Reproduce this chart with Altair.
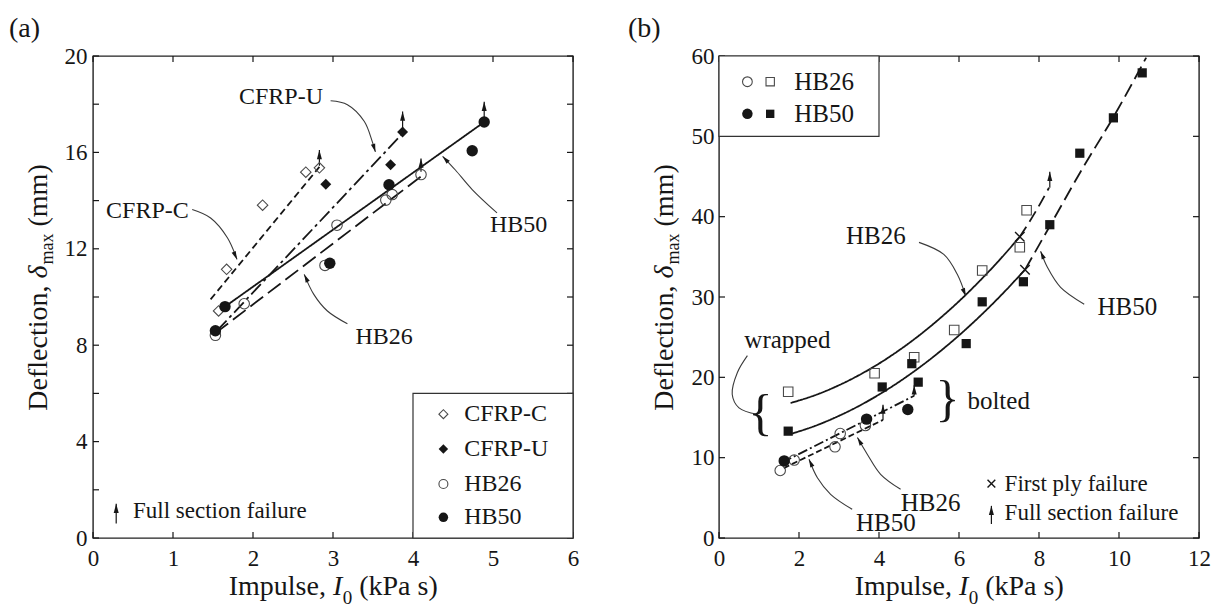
import math
import altair as alt
import pandas as pd

FONT = "Liberation Serif"
INK = "#161616"
OPEN = "#4a4a4a"
NOTE = "#3a3a3a"
W, H = 480, 482
TICK = 6

# ---------------- panel (a): sandwich panels, linear fits ----------------
A_XDOM, A_YDOM = [0, 6], [0, 20]
a_x_ticks = [0, 1, 2, 3, 4, 5, 6]
a_y_ticks = [0, 2, 4, 6, 8, 10, 12, 14, 16, 18, 20]
a_y_labels = [0, 4, 8, 12, 16, 20]

cfrpc_x = [1.57, 1.67, 2.12, 2.66, 2.83]
cfrpc_y = [9.42, 11.15, 13.81, 15.18, 15.36]
cfrpu_x = [2.91, 3.72, 3.87]
cfrpu_y = [14.68, 15.49, 16.85]
hb26_x = [1.53, 1.89, 2.90, 3.05, 3.66, 3.74, 4.10]
hb26_y = [8.41, 9.72, 11.31, 12.98, 14.02, 14.25, 15.08]
hb50_x = [1.53, 1.65, 2.96, 3.70, 4.74, 4.89]
hb50_y = [8.60, 9.60, 11.40, 14.66, 16.07, 17.26]

# straight-line fits: end points
a_fit_x0 = [1.47, 1.55, 1.65, 1.53]
a_fit_y0 = [9.90, 8.60, 9.60, 8.50]
a_fit_x1 = [2.83, 3.86, 4.89, 4.10]
a_fit_y1 = [15.40, 16.75, 17.26, 15.00]
a_fit_dash = [[7, 4], [14, 4, 3, 4], [1, 0], [16, 6]]

# full section failure arrows
a_fail_x = [2.83, 3.87, 4.10, 4.89]
a_fail_y0 = [15.45, 16.95, 15.20, 17.35]
a_fail_y1 = [16.10, 17.70, 15.75, 18.10]

# callout labels and leader curves
a_note_text = ["CFRP-U", "CFRP-C", "HB26", "HB50"]
a_note_x = [2.35, 0.68, 3.64, 5.32]
a_note_y = [18.28, 13.56, 8.34, 13.00]
a_lead_x = [[2.97, 3.18, 3.39, 3.49, 3.53],
            [1.24, 1.47, 1.68, 1.80],
            [3.18, 2.93, 2.76, 2.64],
            [5.05, 4.74, 4.53, 4.37]]
a_lead_y = [[18.14, 17.98, 17.29, 16.46, 16.02],
            [13.63, 13.28, 12.46, 11.56],
            [8.89, 9.42, 10.11, 10.94],
            [13.49, 14.46, 15.27, 15.84]]

# legend box contents
a_leg_box = [4.0, 0.0, 6.0, 6.0]
a_leg_names = ["CFRP-C", "CFRP-U", "HB26", "HB50"]
a_leg_sym_x, a_leg_txt_x = 4.38, 4.64
a_leg_y = [5.14, 3.69, 2.24, 0.86]
a_fs_arrow = [0.29, 0.60, 1.42]
a_fs_text = [0.50, 1.14, "Full section failure"]

# ---------------- panel (b): wrapped vs bolted ----------------
B_XDOM, B_YDOM = [0, 12], [0, 60]
b_x_ticks = [0, 2, 4, 6, 8, 10, 12]
b_y_ticks = [0, 10, 20, 30, 40, 50, 60]

w26_x = [1.73, 3.89, 4.88, 5.88, 6.58, 7.52, 7.69]
w26_y = [18.2, 20.5, 22.5, 25.9, 33.3, 36.2, 40.8]
w50_x = [1.73, 4.08, 4.82, 4.98, 6.18, 6.58, 7.61, 8.27, 9.02, 9.86, 10.58]
w50_y = [13.3, 18.8, 21.7, 19.4, 24.2, 29.4, 31.9, 39.0, 47.9, 52.3, 57.9]
b26_x = [1.53, 1.88, 2.90, 3.03, 3.66]
b26_y = [8.4, 9.7, 11.35, 13.0, 14.0]
b50_x = [1.63, 3.69, 4.72]
b50_y = [9.6, 14.8, 16.0]
ply_x = [7.52, 7.65]
ply_y = [37.5, 33.4]

# wrapped trend curves: solid up to first ply failure, dashed beyond
w26_curve_x = [1.79, 2.5, 3.0, 3.5, 4.0, 4.5, 5.0, 5.5, 6.0, 6.5, 7.0, 7.52]
w26_curve_y = [16.8, 17.96, 19.02, 20.27, 21.71, 23.36, 25.2, 27.24, 29.47, 31.91, 34.54, 37.5]
w26_dash_x = [7.52, 7.9, 8.25]
w26_dash_y = [37.5, 40.5, 43.6]
w50_curve_x = [1.83, 2.5, 3.0, 3.5, 4.0, 4.5, 5.0, 5.5, 6.0, 6.5, 7.0, 7.65]
w50_curve_y = [13.0, 14.14, 15.21, 16.44, 17.85, 19.43, 21.19, 23.12, 25.22, 27.5, 29.95, 33.4]
w50_dash_x = [7.65, 8.29, 9.04, 9.86, 10.68]
w50_dash_y = [33.4, 39.0, 45.6, 52.4, 59.8]

# bolted straight lines
b_fit_x0 = [1.58, 1.62]
b_fit_y0 = [9.4, 8.7]
b_fit_x1 = [4.88, 4.10]
b_fit_y1 = [17.7, 14.7]
b_fit_dash = [[10, 3, 2, 3], [6, 3]]
b_fail_x = [4.10, 4.88, 8.27]
b_fail_y0 = [14.7, 17.7, 43.6]
b_fail_y1 = [16.6, 19.0, 45.6]

b_note_text = ["HB26", "HB50", "HB26", "HB50"]
b_note_x = [3.92, 10.21, 5.29, 4.17]
b_note_y = [37.6, 28.7, 4.4, 1.9]
b_lead_x = [[5.0, 5.62, 5.96, 6.17],
            [9.13, 8.54, 8.21, 8.04],
            [4.54, 4.04, 3.71, 3.46],
            [3.33, 2.79, 2.46, 2.25]]
b_lead_y = [[36.8, 35.3, 32.8, 30.1],
            [29.1, 31.2, 33.7, 35.7],
            [6.06, 7.93, 10.4, 12.5],
            [3.57, 5.44, 7.5, 9.8]]
wrap_lead_x = [0.71, 0.46, 0.33, 0.50, 0.96]
wrap_lead_y = [22.7, 20.6, 17.9, 16.2, 15.4]
wrap_text = [1.71, 24.7, "wrapped"]
bolt_text = [6.21, 17.1, "bolted"]
brace_l = [1.04, 15.4, "{"]
brace_r = [5.71, 17.2, "}"]

b_leg_box = [0.0, 50.0, 4.0, 60.0]
b_leg_sym_x = [0.71, 1.28]
b_leg_txt_x = 1.88
b_leg_y = [56.8, 52.8]
b_leg_names = ["HB26", "HB50"]
b_key_sym_x, b_key_txt_x = 6.81, 7.14
b_key_y = [6.77, 3.15]
b_key_arrow = [1.74, 4.0]
b_key_names = ["First ply failure", "Full section failure"]

# ---- shapes ----
HEAD = "M0,0L0.6,2.2L-0.6,2.2Z"   # arrow head, tip at anchor
XMARK = "M-1,-1L1,1M-1,1L1,-1"

# ---- one axis definition per scale, repeated in every layer so they merge ----
_ax = dict(ticks=False, domain=False, grid=False, labelFont=FONT, labelFontSize=23,
           labelColor=INK, labelFlush=False, labelOverlap=False, title=None)
AXES = {
    ("x", tuple(A_XDOM)): alt.Axis(values=a_x_ticks, labelPadding=9, **_ax),
    ("y", tuple(A_YDOM)): alt.Axis(values=a_y_labels, labelPadding=6, **_ax),
    ("x", tuple(B_XDOM)): alt.Axis(values=b_x_ticks, labelPadding=9, **_ax),
    ("y", tuple(B_YDOM)): alt.Axis(values=b_y_ticks, labelPadding=5, **_ax),
}


def X(f, dom):
    return alt.X(f"{f}:Q", scale=alt.Scale(domain=dom, nice=False, zero=False),
                 axis=AXES[("x", tuple(dom))])


def Y(f, dom):
    return alt.Y(f"{f}:Q", scale=alt.Scale(domain=dom, nice=False, zero=False),
                 axis=AXES[("y", tuple(dom))])


def points(xv, yv, xd, yd, shape, size, filled, color, sw=1.1):
    df = pd.DataFrame({"x": xv, "y": yv})
    return alt.Chart(df).mark_point(shape=shape, size=size, filled=filled, color=color,
                                    strokeWidth=sw, opacity=1).encode(x=X("x", xd), y=Y("y", yd))


def poly(xv, yv, xd, yd, dash, width=1.8, color=INK, interp="linear"):
    df = pd.DataFrame({"x": xv, "y": yv, "i": list(range(len(xv)))})
    return alt.Chart(df).mark_line(strokeDash=dash, strokeWidth=width, color=color,
                                   interpolate=interp).encode(x=X("x", xd), y=Y("y", yd),
                                                              order="i:Q")


def heading(xs_, ys_, xd, yd):
    # direction of the last segment, in screen pixels
    sx = W / (xd[1] - xd[0])
    sy = H / (yd[1] - yd[0])
    dx = (xs_[-1] - xs_[-2]) * sx
    dy = -(ys_[-1] - ys_[-2]) * sy
    return math.degrees(math.atan2(dx, -dy)) % 360


def leaders(lx, ly, xd, yd, heads=True):
    rows, tips = [], []
    for g, (xs_, ys_) in enumerate(zip(lx, ly)):
        for i, (a, b) in enumerate(zip(xs_, ys_)):
            rows.append({"g": g, "i": i, "x": a, "y": b})
        tips.append({"x": xs_[-1], "y": ys_[-1], "ang": heading(xs_, ys_, xd, yd)})
    curve = alt.Chart(pd.DataFrame(rows)).mark_line(
        color=NOTE, strokeWidth=1.1, interpolate="catmull-rom").encode(
        x=X("x", xd), y=Y("y", yd), detail="g:N", order="i:Q")
    if not heads:
        return curve
    head = alt.Chart(pd.DataFrame(tips)).mark_point(
        shape=HEAD, size=55, filled=True, color=INK, opacity=1).encode(
        x=X("x", xd), y=Y("y", yd), angle=alt.Angle("ang:Q", scale=None))
    return curve + head


def fail_arrows(fx, y0, y1, xd, yd):
    df = pd.DataFrame({"x": fx, "y0": y0, "y1": y1})
    shaft = alt.Chart(df).mark_rule(color=INK, strokeWidth=1.2).encode(
        x=X("x", xd), y=Y("y0", yd), y2="y1:Q")
    head = alt.Chart(df).mark_point(shape=HEAD, size=70, filled=True, color=INK,
                                    opacity=1).encode(x=X("x", xd), y=Y("y1", yd))
    return shaft + head


def labels(tx, ty, tt, xd, yd, size=24, align="center"):
    df = pd.DataFrame({"x": tx, "y": ty, "t": tt})
    return alt.Chart(df).mark_text(font=FONT, fontSize=size, color=INK, align=align,
                                   baseline="middle").encode(
        x=X("x", xd), y=Y("y", yd), text="t:N")


def box(b, xd, yd):
    df = pd.DataFrame({"x": [b[0]], "y": [b[1]], "x2": [b[2]], "y2": [b[3]]})
    return alt.Chart(df).mark_rect(fill="white", stroke="#333333", strokeWidth=1.2).encode(
        x=X("x", xd), y=Y("y", yd), x2="x2:Q", y2="y2:Q")


def frame_ticks(xt, yt, xd, yd):
    # inward ticks on all four sides of the frame
    dx = pd.DataFrame({"v": xt})
    dy = pd.DataFrame({"v": yt})
    rx = alt.Chart(dx).mark_rule(color=INK, strokeWidth=1.2)
    ry = alt.Chart(dy).mark_rule(color=INK, strokeWidth=1.2)
    bottom = rx.encode(x=X("v", xd), y=alt.value(H), y2=alt.value(H - TICK))
    top = rx.encode(x=X("v", xd), y=alt.value(0), y2=alt.value(TICK))
    left = ry.encode(y=Y("v", yd), x=alt.value(0), x2=alt.value(TICK))
    right = ry.encode(y=Y("v", yd), x=alt.value(W), x2=alt.value(W - TICK))
    return bottom + top + left + right


# ---- composed axis titles (italic symbols with subscripts) ----
def text_piece(t, px, py, size, italic=False, angle=0):
    kw = dict(font=FONT, fontSize=size, color=INK, align="left", baseline="alphabetic")
    if italic:
        kw["fontStyle"] = "italic"
    if angle:
        kw["angle"] = angle
    return alt.Chart(pd.DataFrame({"t": [t]})).mark_text(**kw).encode(
        x=alt.value(px), y=alt.value(py), text="t:N")


def axis_titles(tag, tag_x):
    # x title: "Impulse, I0 (kPa s)"
    xb, xs0 = 539, 135.7
    parts = (text_piece("Impulse,", xs0, xb, 28)
             + text_piece("I", xs0 + 104.2, xb, 28, italic=True)
             + text_piece("0", xs0 + 114.0, xb + 9, 19)
             + text_piece("(kPa s)", xs0 + 130.5, xb, 28))
    # y title: "Deflection, δmax (mm)", read bottom to top
    yb, ys0 = -46, 354.7
    parts = (parts
             + text_piece("Deflection,", yb, ys0, 28, angle=270)
             + text_piece("δ", yb, ys0 - 132.2, 28, italic=True, angle=270)
             + text_piece("max", yb + 6, ys0 - 146.2, 18, angle=270)
             + text_piece("(mm)", yb, ys0 - 184.2, 28, angle=270))
    return parts + text_piece(tag, tag_x, -19, 28)


# ================= panel (a) =================
xa, ya = A_XDOM, A_YDOM
a_layers = [frame_ticks(a_x_ticks, a_y_ticks, xa, ya)]
for x0, y0, x1, y1, d in zip(a_fit_x0, a_fit_y0, a_fit_x1, a_fit_y1, a_fit_dash):
    a_layers.append(poly([x0, x1], [y0, y1], xa, ya, d))
a_layers += [
    fail_arrows(a_fail_x, a_fail_y0, a_fail_y1, xa, ya),
    points(cfrpc_x, cfrpc_y, xa, ya, "diamond", 110, False, OPEN),
    points(hb26_x, hb26_y, xa, ya, "circle", 110, False, OPEN),
    points(cfrpu_x, cfrpu_y, xa, ya, "diamond", 120, True, INK),
    points(hb50_x, hb50_y, xa, ya, "circle", 130, True, INK),
    leaders(a_lead_x, a_lead_y, xa, ya),
    labels(a_note_x, a_note_y, a_note_text, xa, ya),
    box(a_leg_box, xa, ya),
    points([a_leg_sym_x], [a_leg_y[0]], xa, ya, "diamond", 80, False, OPEN),
    points([a_leg_sym_x], [a_leg_y[1]], xa, ya, "diamond", 90, True, INK),
    points([a_leg_sym_x], [a_leg_y[2]], xa, ya, "circle", 80, False, OPEN),
    points([a_leg_sym_x], [a_leg_y[3]], xa, ya, "circle", 90, True, INK),
    labels([a_leg_txt_x] * 4, a_leg_y, a_leg_names, xa, ya, size=24, align="left"),
    fail_arrows([a_fs_arrow[0]], [a_fs_arrow[1]], [a_fs_arrow[2]], xa, ya),
    labels([a_fs_text[0]], [a_fs_text[1]], [a_fs_text[2]], xa, ya, size=23, align="left"),
    axis_titles("(a)", -84),
]
panel_a = alt.layer(*a_layers).properties(width=W, height=H)

# ================= panel (b) =================
xb_, yb_ = B_XDOM, B_YDOM
b_layers = [
    frame_ticks(b_x_ticks, b_y_ticks, xb_, yb_),
    poly(w26_curve_x, w26_curve_y, xb_, yb_, [1, 0], interp="monotone"),
    poly(w26_dash_x, w26_dash_y, xb_, yb_, [12, 6], interp="monotone"),
    poly(w50_curve_x, w50_curve_y, xb_, yb_, [1, 0], interp="monotone"),
    poly(w50_dash_x, w50_dash_y, xb_, yb_, [14, 6], interp="monotone"),
]
for x0, y0, x1, y1, d in zip(b_fit_x0, b_fit_y0, b_fit_x1, b_fit_y1, b_fit_dash):
    b_layers.append(poly([x0, x1], [y0, y1], xb_, yb_, d))
b_layers += [
    fail_arrows(b_fail_x, b_fail_y0, b_fail_y1, xb_, yb_),
    points(w26_x, w26_y, xb_, yb_, "square", 90, False, OPEN),
    points(w50_x, w50_y, xb_, yb_, "square", 85, True, INK),
    points(b26_x, b26_y, xb_, yb_, "circle", 110, False, OPEN),
    points(b50_x, b50_y, xb_, yb_, "circle", 130, True, INK),
    points(ply_x, ply_y, xb_, yb_, XMARK, 90, False, INK, sw=1.4),
    leaders(b_lead_x, b_lead_y, xb_, yb_),
    leaders([wrap_lead_x], [wrap_lead_y], xb_, yb_, heads=False),
    labels(b_note_x, b_note_y, b_note_text, xb_, yb_, size=25),
    labels([wrap_text[0]], [wrap_text[1]], [wrap_text[2]], xb_, yb_, size=25),
    labels([bolt_text[0]], [bolt_text[1]], [bolt_text[2]], xb_, yb_, size=25, align="left"),
    labels([brace_l[0], brace_r[0]], [brace_l[1], brace_r[1]], [brace_l[2], brace_r[2]],
           xb_, yb_, size=50),
    box(b_leg_box, xb_, yb_),
    points([b_leg_sym_x[0]], [b_leg_y[0]], xb_, yb_, "circle", 95, False, OPEN),
    points([b_leg_sym_x[1]], [b_leg_y[0]], xb_, yb_, "square", 70, False, OPEN),
    points([b_leg_sym_x[0]], [b_leg_y[1]], xb_, yb_, "circle", 110, True, INK),
    points([b_leg_sym_x[1]], [b_leg_y[1]], xb_, yb_, "square", 70, True, INK),
    labels([b_leg_txt_x] * 2, b_leg_y, b_leg_names, xb_, yb_, size=25, align="left"),
    points([b_key_sym_x], [b_key_y[0]], xb_, yb_, XMARK, 60, False, INK, sw=1.4),
    fail_arrows([b_key_sym_x], [b_key_arrow[0]], [b_key_arrow[1]], xb_, yb_),
    labels([b_key_txt_x] * 2, b_key_y, b_key_names, xb_, yb_, size=23, align="left"),
    axis_titles("(b)", -91),
]
panel_b = alt.layer(*b_layers).properties(width=W, height=H)

chart = alt.hconcat(panel_a, panel_b, spacing=146, bounds="flush").properties(
    padding={"left": 8, "top": 14, "right": 6, "bottom": 6},
    autosize=alt.AutoSizeParams(type="pad"),
    background="white",
).configure_view(stroke="#222222", strokeWidth=1.4)

chart.save("out.html", embed_options={"renderer": "svg", "actions": False})
